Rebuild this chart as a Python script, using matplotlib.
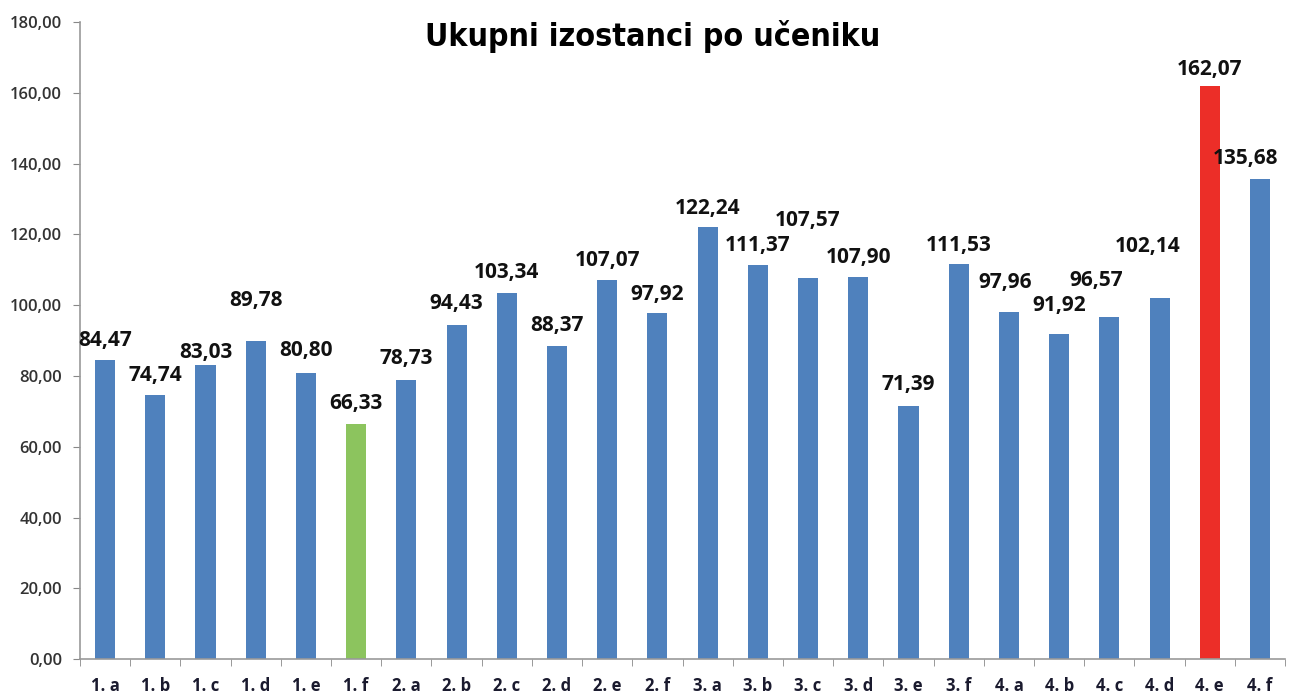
import matplotlib.pyplot as plt
import numpy as np

razredi = ["1. a", "1. b", "1. c", "1. d", "1. e", "1. f",
           "2. a", "2. b", "2. c", "2. d", "2. e", "2. f",
           "3. a", "3. b", "3. c", "3. d", "3. e", "3. f",
           "4. a", "4. b", "4. c", "4. d", "4. e", "4. f"]
izostanci = [84.47, 74.74, 83.03, 89.78, 80.80, 66.33,
             78.73, 94.43, 103.34, 88.37, 107.07, 97.92,
             122.24, 111.37, 107.57, 107.90, 71.39, 111.53,
             97.96, 91.92, 96.57, 102.14, 162.07, 135.68]

# pomak oznaka (pikseli) kao na originalu
pomak_y = [9, 9, 2, 30, 12, 10, 11, 11, 10, 10, 9, 8,
           8, 9, 47, 9, 11, 8, 19, 18, 26, 41, 6, 10]
pomak_x = [0, 0, 0, 0, 0, 0, 0, 0, 0, 0, 0, 0,
           0, 0, 0, 0, 0, 0, -4, 0, -13, -12, 0, -14]

boje = ["#4F81BD"] * len(razredi)
boje[razredi.index("1. f")] = "#8CC45E"
boje[razredi.index("4. e")] = "#EC2E28"

fig = plt.figure(figsize=(12.89, 6.93), dpi=100)
ax = fig.add_axes([0.062, 0.049, 0.935, 0.919])

x = np.arange(len(razredi))
ax.bar(x, izostanci, width=0.4, color=boje, zorder=2)

for i, v in enumerate(izostanci):
    ax.annotate("{:.2f}".format(v).replace(".", ","), (x[i], v),
                xytext=(pomak_x[i], pomak_y[i]), textcoords="offset pixels",
                ha="center", va="bottom", fontsize=15, fontweight="bold",
                color="#111111", family="Open Sans")

ax.set_xlim(-0.5, len(razredi) - 0.5)
ax.set_ylim(0, 180)
ax.set_yticks(np.arange(0, 181, 20))
ax.set_yticklabels(["{:.2f}".format(t).replace(".", ",") for t in np.arange(0, 181, 20)],
                   fontsize=12, color="#333333", family="Open Sans", fontweight="semibold")
ax.set_xticks(x)
ax.set_xticklabels(razredi, fontsize=12, color="#1a1a2e", family="Open Sans", fontweight="bold")
ax.tick_params(axis="x", length=0, pad=13)
ax.set_xticks(np.arange(-0.5, len(razredi), 1), minor=True)
ax.tick_params(axis="x", which="minor", length=5, color="#888888")
ax.tick_params(axis="y", length=5, color="#888888", pad=8)

for s in ["top", "right"]:
    ax.spines[s].set_visible(False)
for s in ["left", "bottom"]:
    ax.spines[s].set_color("#999999")
    ax.spines[s].set_linewidth(1.2)

fig.text(0.506, 0.948, "Ukupni izostanci po učeniku", ha="center", va="center",
         fontsize=23, fontweight="bold", family="DejaVu Sans", fontstretch="condensed")

fig.savefig("out.png", dpi=100)
